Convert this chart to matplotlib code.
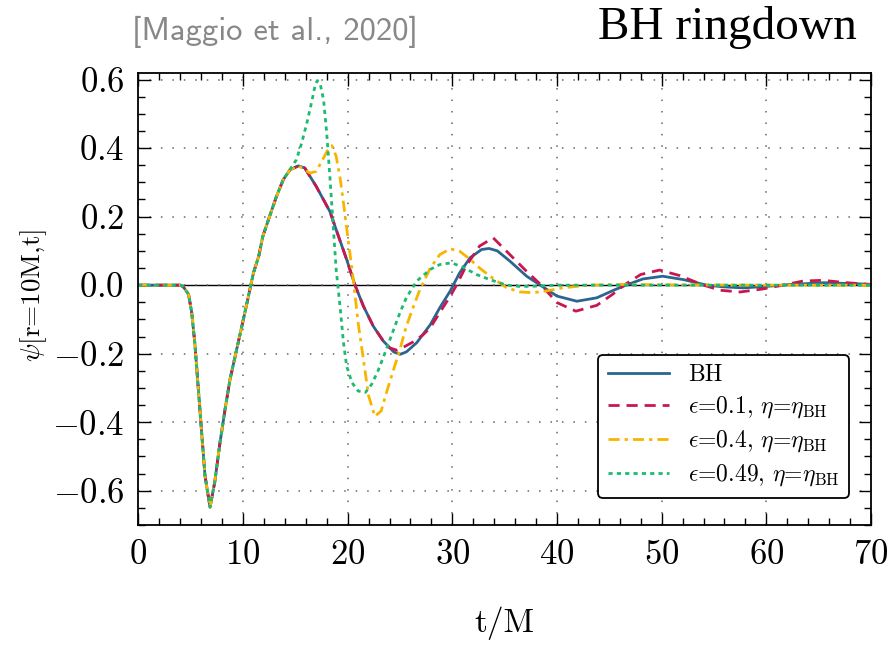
import matplotlib
matplotlib.use('Agg')
import matplotlib.pyplot as plt
from matplotlib.ticker import MultipleLocator

# shared early part of the waveform (all four curves overlap here)
t_early = [0, 2, 3.5, 4.0, 4.3, 4.8, 5.1, 5.4, 5.7, 6.05, 6.37, 6.85, 7.3, 7.8,
           8.3, 8.76, 9.4, 10.0, 10.5, 11.0, 11.5, 11.9, 12.6, 13.2, 13.85, 14.5]
psi_early = [0, 0, 0, 0, -0.005, -0.027, -0.08, -0.17, -0.29, -0.43, -0.556, -0.648,
             -0.575, -0.46, -0.36, -0.275, -0.187, -0.105, -0.035, 0.036, 0.084,
             0.143, 0.206, 0.259, 0.308, 0.337]

# BH
t_bh = [15.3, 15.9, 17.0, 18.3, 18.9, 19.9, 20.7, 21.5, 22.45, 23.4, 24.4, 25.0,
        25.6, 26.6, 27.9, 28.8, 29.8, 30.7, 31.7, 32.8, 33.5, 34.3, 35.5, 37.1,
        38.4, 40.0, 41.9, 43.8, 45.4, 46.6, 48.2, 50.1, 52.1, 54.3, 55.9, 57.8,
        60.3, 62.3, 65.5, 68.7, 70]
psi_bh = [0.348, 0.342, 0.288, 0.215, 0.162, 0.075, 0.0, -0.061, -0.12, -0.163,
          -0.195, -0.202, -0.195, -0.168, -0.115, -0.066, -0.017, 0.036, 0.08,
          0.104, 0.107, 0.1, 0.07, 0.026, 0.0, -0.032, -0.047, -0.037, -0.015,
          0.0, 0.018, 0.026, 0.016, 0.0, -0.005, -0.008, -0.003, 0.002, 0.007,
          0.004, 0.002]

# eps = 0.1
t_e01 = [15.3, 15.9, 17.0, 18.3, 18.9, 19.9, 20.7, 21.5, 22.45, 23.4, 24.0, 24.7,
         25.4, 26.3, 27.2, 27.9, 28.8, 29.8, 30.4, 31.3, 32.6, 33.9, 35.5, 37.1,
         38.5, 40.0, 41.8, 43.8, 45.3, 46.4, 48.0, 49.8, 51.7, 54.0, 55.6, 57.5,
         59.7, 61.6, 63.5, 65.4, 67.7, 70]
psi_e01 = [0.348, 0.342, 0.288, 0.215, 0.162, 0.075, 0.0, -0.061, -0.12, -0.163,
           -0.183, -0.19, -0.18, -0.165, -0.145, -0.124, -0.08, -0.032, 0.0, 0.055,
           0.114, 0.138, 0.089, 0.04, 0.0, -0.051, -0.076, -0.059, -0.027, 0.0,
           0.031, 0.044, 0.028, 0.0, -0.015, -0.02, -0.011, 0.0, 0.012, 0.014,
           0.007, 0.002]

# eps = 0.4
t_e04 = [15.3, 15.9, 16.4, 17.0, 17.6, 18.2, 18.5, 18.9, 19.3, 19.6, 20.0, 20.5,
         21.0, 21.5, 22.0, 22.6, 23.2, 23.8, 24.4, 25.0, 25.6, 26.3, 26.9, 27.9,
         28.8, 29.8, 30.7, 31.7, 32.6, 33.6, 35.2, 36.5, 37.7, 39.0, 40.5, 43.0,
         46.0, 50.0, 60.0, 70]
psi_e04 = [0.348, 0.337, 0.327, 0.332, 0.366, 0.4, 0.407, 0.376, 0.308, 0.24, 0.143,
           0.026, -0.11, -0.216, -0.323, -0.383, -0.367, -0.304, -0.245, -0.187,
           -0.12, -0.061, -0.013, 0.05, 0.089, 0.106, 0.099, 0.075, 0.05, 0.026,
           -0.008, -0.02, -0.022, -0.017, -0.008, 0.0, 0.002, 0.001, 0.0, 0.0]

# eps = 0.49
t_e049 = [15.1, 15.6, 16.1, 16.6, 16.9, 17.1, 17.4, 17.7, 18.0, 18.3, 18.6, 18.9,
          19.3, 19.6, 19.9, 20.4, 21.0, 21.7, 22.3, 22.9, 23.7, 24.4, 25.0, 25.6,
          26.6, 27.9, 28.8, 29.9, 31.0, 32.3, 33.6, 35.2, 36.5, 38.0, 40.0, 50.0,
          60.0, 70]
psi_e049 = [0.366, 0.414, 0.473, 0.54, 0.584, 0.597, 0.584, 0.54, 0.443, 0.317,
            0.181, 0.046, -0.071, -0.168, -0.236, -0.284, -0.309, -0.313, -0.289,
            -0.25, -0.187, -0.129, -0.08, -0.037, 0.012, 0.046, 0.06, 0.065, 0.053,
            0.031, 0.016, 0.0, -0.004, -0.003, 0.0, 0.0, 0.0, 0.0]

labels = ['BH',
          r'$\epsilon$=0.1, $\eta$=$\eta_{\mathrm{BH}}$',
          r'$\epsilon$=0.4, $\eta$=$\eta_{\mathrm{BH}}$',
          r'$\epsilon$=0.49, $\eta$=$\eta_{\mathrm{BH}}$']
colors = ['#2b6590', '#c8174f', '#f7b500', '#1dbb72']

plt.rcParams['font.family'] = ['cmr10', 'DejaVu Serif']
plt.rcParams['mathtext.fontset'] = 'cm'
plt.rcParams['axes.formatter.use_mathtext'] = True

fig = plt.figure(figsize=(8.93, 6.46), dpi=100)
ax = fig.add_axes([0.1549, 0.1873, 0.8205, 0.7002])

ax.axhline(0, color='black', lw=1.0, zorder=1.5)
ax.plot(t_early + t_bh, psi_early + psi_bh, color=colors[0], lw=2.0, label=labels[0])
ax.plot(t_early + t_e01, psi_early + psi_e01, color=colors[1], lw=2.0,
        ls=(0, (4, 2.5)), label=labels[1])
ax.plot(t_early + t_e04, psi_early + psi_e04, color=colors[2], lw=2.0,
        ls=(0, (4, 1.8, 1.2, 1.8)), label=labels[2])
ax.plot(t_early[:-1] + t_e049, psi_early[:-1] + psi_e049, color=colors[3], lw=2.0,
        ls=(0, (1.5, 1.5)), label=labels[3])

ax.set_xlim(0, 70)
ax.set_ylim(-0.7, 0.62)
ax.set_xticks(range(0, 71, 10))
ax.set_yticks([-0.6, -0.4, -0.2, 0.0, 0.2, 0.4, 0.6])
ax.xaxis.set_minor_locator(MultipleLocator(2))
ax.yaxis.set_minor_locator(MultipleLocator(0.05))
ax.tick_params(which='both', direction='in', top=True, right=True, width=1.0,
               labelsize=25, pad=10)
ax.tick_params(which='major', length=9)
ax.tick_params(which='minor', length=5)
for sp in ax.spines.values():
    sp.set_linewidth(1.3)
ax.grid(True, which='major', ls=(0, (1, 6.5)), color='#666666', lw=1.1)

ax.set_xlabel('t/M', fontsize=24)
ax.xaxis.set_label_coords(0.5, -0.18)
ax.xaxis.label.set_va('top')
ax.set_ylabel(r'$\psi$[r=10M,t]', fontsize=19.5)
ax.yaxis.set_label_coords(-0.122, 0.508)

leg = ax.legend(loc='lower right', bbox_to_anchor=(0.970, 0.060), borderaxespad=0,
                fontsize=17, handlelength=2.6, labelspacing=0.35, fancybox=True,
                framealpha=1, edgecolor='black')
leg.get_frame().set_linewidth(1.3)

fig.text(0.96, 0.957, 'BH ringdown', ha='right', va='center', fontsize=34,
         family='Liberation Serif')
fig.text(0.148, 0.950, '[Maggio et al., 2020]', ha='left', va='center',
         fontsize=23.5, family='cmss10', color='#888888')

fig.savefig('out.png', dpi=100)
